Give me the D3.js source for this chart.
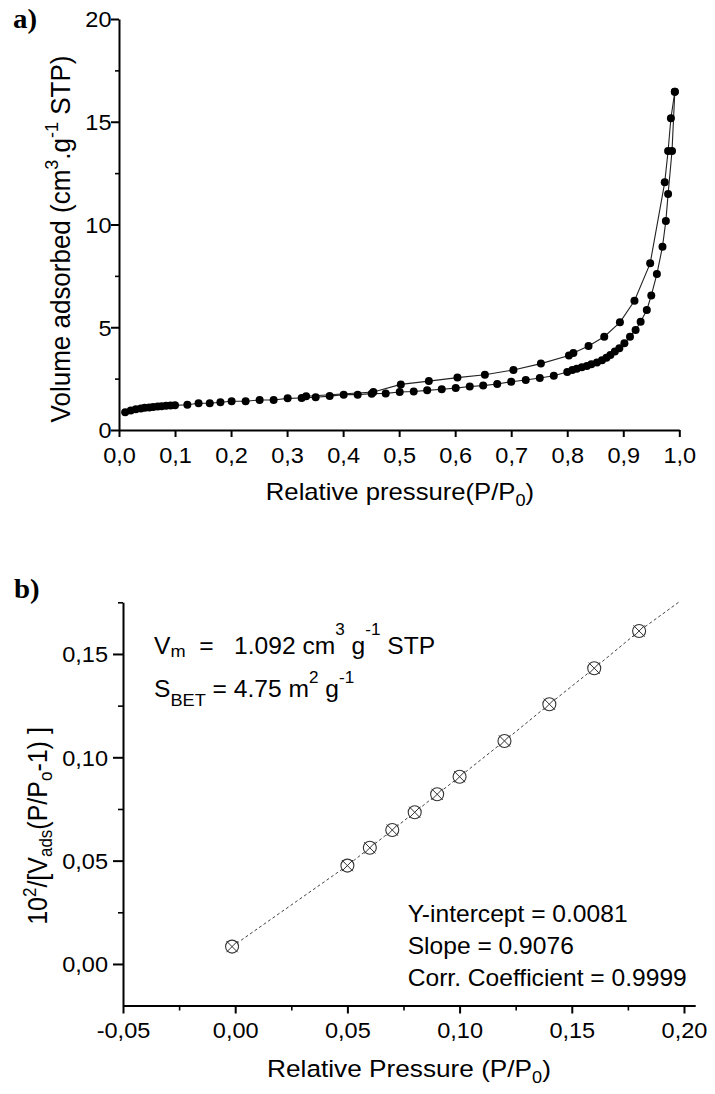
<!DOCTYPE html>
<html><head><meta charset="utf-8">
<script src="https://cdn.jsdelivr.net/npm/d3@7"></script>
<style>body{margin:0;background:#fff} svg text{font-family:"Liberation Sans",Arial,sans-serif;fill:#000}</style>
</head><body><svg id="c" width="715" height="1094" style="background:#fff"></svg>
<script>
// ---- Panel a) : N2 adsorption / desorption isotherm ----
const adsX=[0.011,0.021,0.030,0.039,0.046,0.054,0.061,0.069,0.076,0.084,0.092,0.100,0.122,0.142,0.162,0.181,0.201,0.226,0.251,0.276,0.301,0.326,0.351,0.376,0.401,0.426,0.451,0.476,0.501,0.526,0.550,0.576,0.601,0.626,0.650,0.675,0.700,0.726,0.751,0.776,0.800,0.809,0.817,0.826,0.835,0.843,0.853,0.862,0.870,0.877,0.885,0.893,0.902,0.912,0.922,0.931,0.942,0.950,0.960,0.970,0.976,0.980,0.987,0.992];
const adsY=[0.86,0.95,1.01,1.05,1.08,1.10,1.12,1.14,1.16,1.18,1.19,1.20,1.23,1.30,1.30,1.35,1.40,1.40,1.46,1.46,1.54,1.56,1.59,1.65,1.72,1.72,1.77,1.78,1.85,1.87,1.93,1.98,2.04,2.12,2.16,2.24,2.35,2.43,2.53,2.64,2.82,2.92,2.98,3.05,3.11,3.20,3.29,3.39,3.52,3.65,3.82,3.98,4.22,4.54,4.87,5.27,5.84,6.55,7.59,8.92,10.17,11.48,13.58,16.46];
const desX=[0.992,0.985,0.980,0.974,0.948,0.920,0.894,0.866,0.838,0.811,0.803,0.753,0.704,0.653,0.604,0.553,0.503,0.454,0.334];
const desY=[16.46,15.17,13.58,12.05,8.11,6.29,5.24,4.54,4.09,3.75,3.63,3.23,2.92,2.69,2.55,2.38,2.22,1.85,1.64];
const aXTicks=[0,0.1,0.2,0.3,0.4,0.5,0.6,0.7,0.8,0.9,1.0];
const aYTicks=[0,5,10,15,20];
const aYMinor=[2.5,7.5,12.5,17.5];

// ---- Panel b) : BET plot ----
const betX=[-0.0014,0.050,0.060,0.070,0.080,0.090,0.100,0.120,0.140,0.160,0.180];
const betY=[0.0084,0.0476,0.0562,0.0648,0.0734,0.0821,0.0906,0.1079,0.1257,0.1431,0.1611];
const fitEndX=[0.198];
const fitEndY=[0.1753];
const bXTicks=[-0.05,0,0.05,0.10,0.15,0.20];
const bXMinor=[-0.025,0.025,0.075,0.125,0.175];
const bYTicks=[0,0.05,0.10,0.15];
const bYMinor=[0.025,0.075,0.125,0.175];

const SX=1.07;
const svg=d3.select("#c");
const comma=(d,n)=>d.toFixed(n).replace(".",",");

function styleAxis(g,fs,sw){
  g.attr("font-family",null).attr("font-size",null);
  g.select(".domain").attr("stroke","#000").attr("stroke-width",sw);
  g.selectAll(".tick line").attr("stroke","#000").attr("stroke-width",sw);
  g.selectAll(".tick text").attr("font-size",fs).attr("transform",`scale(${SX},1)`);
}
function minor(g){ g.select(".domain").remove(); g.selectAll(".tick line").attr("stroke","#000").attr("stroke-width",1.6); }

// scales panel a
const xA=d3.scaleLinear().domain([0,1]).range([119,679.3]);
const yA=d3.scaleLinear().domain([0,20]).range([430,19]);

const gA=svg.append("g");
gA.append("g").attr("transform","translate(0,430)")
  .call(d3.axisBottom(xA).tickValues(aXTicks).tickFormat(d=>comma(d,1)).tickSize(7).tickSizeOuter(0))
  .call(g=>styleAxis(g,22,2))
  .call(g=>g.selectAll(".tick text").attr("y",33).attr("dy",null));
gA.append("g").attr("transform","translate(119,0)")
  .call(d3.axisLeft(yA).tickValues(aYTicks).tickFormat(d=>d).tickSize(8).tickSizeOuter(0))
  .call(g=>styleAxis(g,22,2))
  .call(g=>g.selectAll(".tick text").attr("x",-7).attr("dy","0.36em"));
gA.append("g").attr("transform","translate(119,0)")
  .call(d3.axisLeft(yA).tickValues(aYMinor).tickFormat("").tickSize(4))
  .call(minor);

const lineA=d3.line().x(d=>xA(d[0])).y(d=>yA(d[1]));
const ads=adsX.map((x,i)=>[x,adsY[i]]);
const des=desX.map((x,i)=>[x,desY[i]]);
gA.append("path").datum(ads).attr("d",lineA).attr("fill","none").attr("stroke","#222").attr("stroke-width",1.1);
gA.append("path").datum(des).attr("d",lineA).attr("fill","none").attr("stroke","#222").attr("stroke-width",1.1);
gA.selectAll("circle.a").data(ads.concat(des)).join("circle").attr("class","a")
  .attr("cx",d=>xA(d[0])).attr("cy",d=>yA(d[1])).attr("r",4).attr("fill","#000");

// scales panel b
const xB=d3.scaleLinear().domain([-0.05,0.205]).range([123,695.2]);
const yB=d3.scaleLinear().domain([-0.02,0.175]).range([1005.3,602.3]);
const gB=svg.append("g");
gB.append("g").attr("transform","translate(0,1005.5)")
  .call(d3.axisBottom(xB).tickValues(bXTicks).tickFormat(d=>comma(d,2)).tickSize(8).tickSizeOuter(0))
  .call(g=>styleAxis(g,22,2))
  .call(g=>g.selectAll(".tick text").attr("y",32.5).attr("dy",null));
gB.append("g").attr("transform","translate(0,1005.5)")
  .call(d3.axisBottom(xB).tickValues(bXMinor).tickFormat("").tickSize(5))
  .call(minor);
gB.append("g").attr("transform","translate(123,0)")
  .call(d3.axisLeft(yB).tickValues(bYTicks).tickFormat(d=>comma(d,2)).tickSize(10).tickSizeOuter(0))
  .call(g=>styleAxis(g,22,2))
  .call(g=>g.selectAll(".tick text").attr("x",-14).attr("dy","0.36em"));
gB.append("g").attr("transform","translate(123,0)")
  .call(d3.axisLeft(yB).tickValues(bYMinor).tickFormat("").tickSize(5))
  .call(minor);

const bet=betX.map((x,i)=>[x,betY[i]]);
const fitPts=bet.concat(fitEndX.map((x,i)=>[x,fitEndY[i]]));
gB.append("path").datum(fitPts).attr("d",d3.line().x(d=>xB(d[0])).y(d=>yB(d[1])))
  .attr("fill","none").attr("stroke","#444").attr("stroke-width",1).attr("stroke-dasharray","3,2.5");
const mk=gB.selectAll("g.m").data(bet).join("g").attr("class","m")
  .attr("transform",d=>`translate(${xB(d[0])},${yB(d[1])})`);
mk.append("circle").attr("r",6.5).attr("fill","#fff").attr("stroke","#333").attr("stroke-width",1.1);
mk.append("path").attr("d","M-5.6,-5.6L5.6,5.6M-5.6,5.6L5.6,-5.6").attr("stroke","#333").attr("stroke-width",1);

// ---- text helpers ----
function txt(x,y,size,opts={}){
  const t=svg.append("text").attr("font-size",size)
    .attr("transform",`translate(${x},${y}) scale(${SX},1)`+(opts.rot?` rotate(${opts.rot})`:""))
    .attr("text-anchor",opts.anchor||"start").style("white-space","pre");
  if(opts.weight) t.attr("font-weight",opts.weight);
  if(opts.family) t.style("font-family",opts.family);
  return t;
}
function parts(t,arr){ // arr of [string, fontSize|null, dy]
  arr.forEach(p=>{const s=t.append("tspan").text(p[0]); if(p[1]) s.attr("font-size",p[1]); if(p[2]) s.attr("dy",p[2]);});
  return t;
}

// panel labels
txt(13,28,27,{weight:"bold",family:'"Liberation Serif","Times New Roman",serif'}).text("a)");
txt(14,598,27,{weight:"bold",family:'"Liberation Serif","Times New Roman",serif'}).text("b)");

// axis titles a
parts(txt(400,500,24,{anchor:"middle"}),[["Relative pressure(P/P"],["0",17,6],[")",null,-6]]);
parts(txt(70,239,26,{anchor:"middle",rot:-90}),[["Volume adsorbed (cm"],["3",18,-11],[".g",null,11],["-1",18,-11],[" STP)",null,11]]);

// axis titles b
parts(txt(409,1077,24.5,{anchor:"middle"}),[["Relative Pressure (P/P"],["0",17,6],[")",null,-6]]);
parts(txt(47,826,25,{anchor:"middle",rot:-90}),[["10"],["2",17,-10],["/[V",null,10],["ads",17,5],["(P/P",null,-5],["o",17,5],["-1) ]",null,-5]]);

// annotations b
parts(txt(154,654,23),[["V"],["m",17,3],["  =   1.092 cm",null,-3],["3",16,-19],[" g",null,19],["-1",16,-19],[" STP",null,19]]);
parts(txt(154,697,23),[["S"],["BET",17,9],[" = 4.75 m",null,-9],["2",16,-14],[" g",null,14],["-1",16,-14]]);
txt(407.7,921.7,23).text("Y-intercept = 0.0081");
txt(407.7,953.5,23).text("Slope = 0.9076");
txt(407.7,985.7,23).text("Corr. Coefficient = 0.9999");
</script></body></html>
